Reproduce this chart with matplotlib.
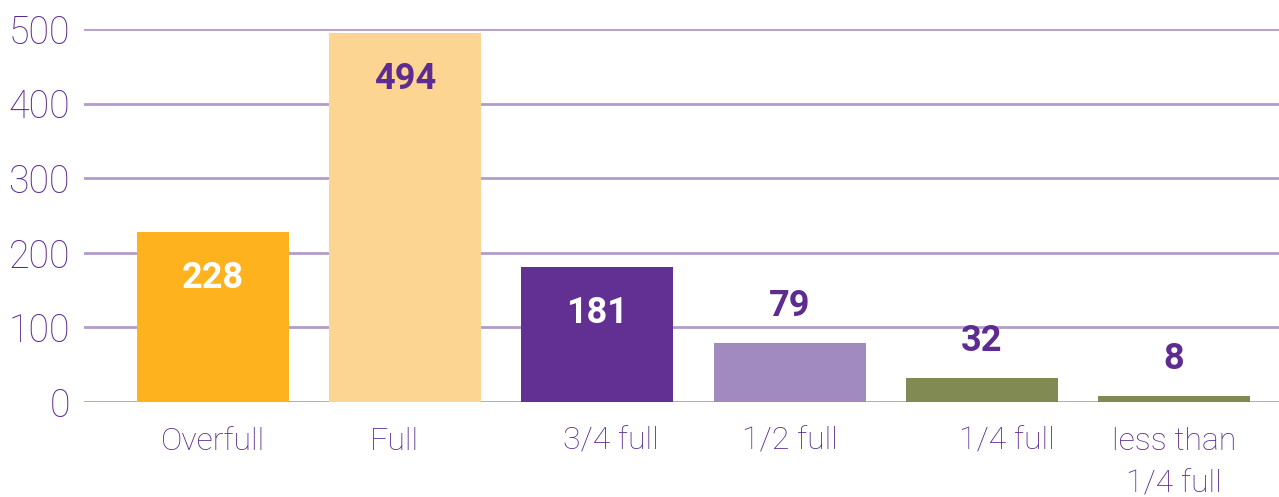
import matplotlib.pyplot as plt

# data
categories = ["Overfull", "Full", "3/4 full", "1/2 full", "1/4 full", "less than\n1/4 full"]
counts = [228, 494, 181, 79, 32, 8]
y_ticks = [0, 100, 200, 300, 400, 500]

bar_colors = ["#FDB21E", "#FDD592", "#623092", "#A08ABF", "#808A52", "#808A52"]
# label inside the bar (white / purple) or above it
label_inside = [True, True, True, False, False, False]
label_colors = ["white", "#5E2B91", "white", "#5E2B91", "#5E2B91", "#5E2B91"]
# small horizontal nudges (pixels) of the category labels, as in the original
label_nudge = [0, -11, 13, 0, 25, 0]

PURPLE = "#5A2990"
GRID = "#B39CCA"

plt.rcParams["font.family"] = ["Roboto", "DejaVu Sans"]

fig = plt.figure(figsize=(12.79, 4.97), dpi=100)
ax = fig.add_axes([84 / 1279, 1 - 402 / 497, 1 - 84 / 1279, (402 - 29) / 497])

x = list(range(len(categories)))
ax.bar(x, counts, width=0.79, color=bar_colors, zorder=2)

# value labels
for xi, v, inside, c in zip(x, counts, label_inside, label_colors):
    dy = -33 if inside else 27
    ax.annotate(str(v), (xi, v), xytext=(0, dy), textcoords="offset points",
                ha="center", va="center", fontsize=26, fontweight="bold", color=c, zorder=3)

# category labels drawn as annotations so they can be nudged
for xi, name, dx in zip(x, categories, label_nudge):
    ax.annotate(name, (xi, 0), xytext=(dx * 0.72, -18), textcoords="offset points",
                ha="center", va="top", fontsize=23, fontweight="light", color=PURPLE,
                linespacing=1.6, annotation_clip=False)

ax.set_xlim(-0.671, 5.546)
ax.set_ylim(0, 500)
ax.set_yticks(y_ticks)
ax.set_yticklabels([str(t) for t in y_ticks])
ax.set_xticks([])

ax.tick_params(axis="y", length=0, pad=10, labelsize=27, labelcolor=PURPLE)
for lab in ax.get_yticklabels():
    lab.set_fontweight("light")

ax.yaxis.grid(True, color=GRID, linewidth=2.0, zorder=0)
ax.set_axisbelow(True)
for s in ax.spines.values():
    s.set_visible(False)

fig.savefig("out.png", dpi=100)
